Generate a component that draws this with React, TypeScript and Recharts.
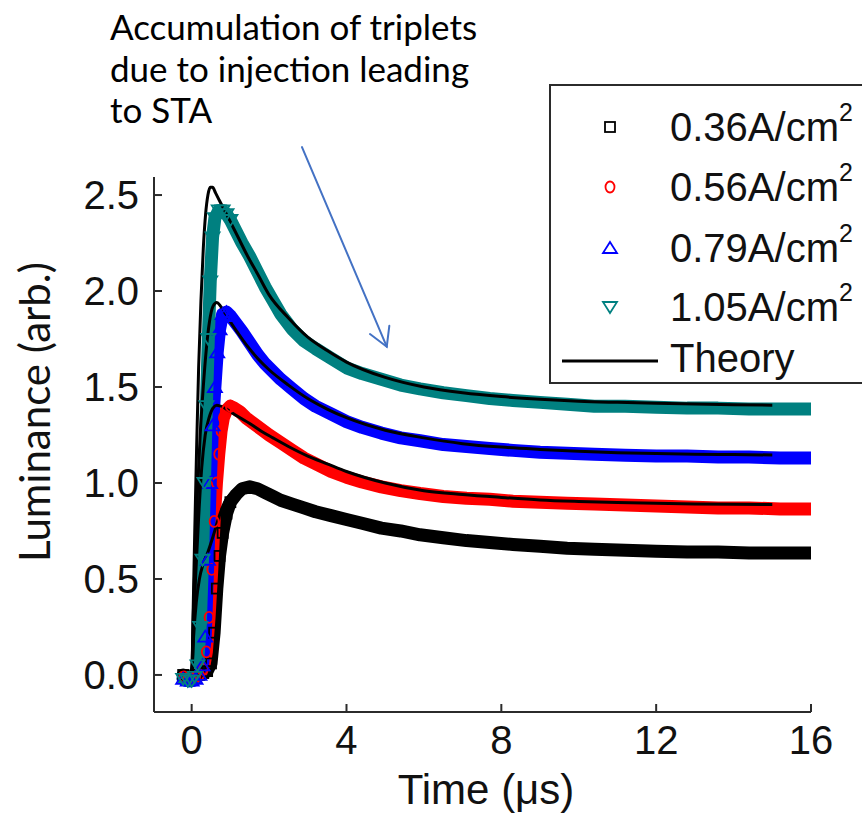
import React from "react";
import { ComposedChart, Line, XAxis, YAxis, ReferenceLine, Legend } from "recharts";

const t036 = [-0.22, -0.1, 0.0, 0.1, 0.2, 0.3, 0.4, 0.5, 0.58, 0.65, 0.72, 0.8, 0.9, 1.0, 1.15, 1.3, 1.5, 1.7, 1.9, 2.1, 2.3, 2.6, 2.9, 3.2, 3.6, 4.0, 4.4, 4.9, 5.4, 5.9, 6.5, 7.1, 7.7, 8.3, 9.0, 9.7, 10.4, 11.2, 12.0, 12.8, 13.6, 14.4, 15.2, 16.0];
const l036 = [0.0, -0.01, -0.01, 0.0, 0.0, 0.01, 0.02, 0.06, 0.22, 0.45, 0.62, 0.74, 0.84, 0.9, 0.94, 0.97, 0.98, 0.97, 0.95, 0.93, 0.91, 0.89, 0.87, 0.85, 0.83, 0.81, 0.79, 0.765, 0.75, 0.73, 0.715, 0.7, 0.69, 0.68, 0.67, 0.66, 0.655, 0.65, 0.645, 0.64, 0.64, 0.635, 0.635, 0.635];

const t056 = [-0.2, -0.1, 0.0, 0.1, 0.2, 0.3, 0.38, 0.45, 0.52, 0.58, 0.64, 0.7, 0.76, 0.82, 0.9, 1.0, 1.1, 1.25, 1.4, 1.6, 1.8, 2.0, 2.3, 2.6, 2.9, 3.2, 3.6, 4.0, 4.4, 4.9, 5.4, 5.9, 6.5, 7.1, 7.7, 8.3, 9.0, 9.7, 10.4, 11.2, 12.0, 12.8, 13.6, 14.4, 15.2, 16.0];
const l056 = [-0.01, -0.02, -0.02, -0.01, 0.0, 0.03, 0.12, 0.3, 0.55, 0.8, 1.0, 1.15, 1.27, 1.34, 1.38, 1.4, 1.39, 1.37, 1.34, 1.31, 1.28, 1.25, 1.21, 1.17, 1.13, 1.1, 1.06, 1.03, 1.005, 0.98, 0.96, 0.945, 0.93, 0.92, 0.915, 0.905, 0.9, 0.895, 0.89, 0.885, 0.88, 0.875, 0.87, 0.87, 0.865, 0.865];

const t079 = [-0.22, -0.1, 0.0, 0.1, 0.2, 0.28, 0.35, 0.42, 0.48, 0.54, 0.6, 0.66, 0.72, 0.8, 0.9, 1.0, 1.15, 1.3, 1.5, 1.7, 1.9, 2.1, 2.3, 2.6, 2.9, 3.2, 3.6, 4.0, 4.4, 4.9, 5.4, 5.9, 6.5, 7.1, 7.7, 8.3, 9.0, 9.7, 10.4, 11.2, 12.0, 12.8, 13.6, 14.4, 15.2, 16.0];
const l079 = [-0.02, -0.03, -0.03, -0.02, 0.0, 0.05, 0.2, 0.6, 1.0, 1.3, 1.5, 1.68, 1.8, 1.88, 1.89, 1.87, 1.83, 1.79, 1.73, 1.67, 1.62, 1.58, 1.54, 1.49, 1.44, 1.4, 1.36, 1.32, 1.29, 1.26, 1.235, 1.22, 1.2, 1.19, 1.18, 1.17, 1.16, 1.155, 1.15, 1.145, 1.14, 1.14, 1.135, 1.135, 1.13, 1.13];

const t105 = [-0.22, -0.1, 0.0, 0.08, 0.15, 0.22, 0.28, 0.33, 0.38, 0.43, 0.48, 0.54, 0.6, 0.7, 0.8, 0.9, 1.0, 1.15, 1.3, 1.5, 1.7, 1.9, 2.1, 2.3, 2.6, 2.9, 3.2, 3.6, 4.0, 4.4, 4.9, 5.4, 5.9, 6.5, 7.1, 7.7, 8.3, 9.0, 9.7, 10.4, 11.2, 12.0, 12.8, 13.6, 14.4, 15.2, 16.0];
const l105 = [-0.02, -0.03, -0.03, -0.01, 0.05, 0.25, 0.6, 1.0, 1.4, 1.75, 2.05, 2.28, 2.38, 2.42, 2.42, 2.4, 2.37, 2.31, 2.25, 2.18, 2.1, 2.02, 1.95, 1.88, 1.8, 1.74, 1.7, 1.65, 1.6, 1.57, 1.54, 1.51, 1.49, 1.47, 1.455, 1.44, 1.43, 1.42, 1.41, 1.4, 1.4, 1.395, 1.39, 1.39, 1.385, 1.385, 1.385];

// theory curves
const tTh036 = [-0.2, 0.0, 0.05, 0.12, 0.2, 0.3, 0.42, 0.55, 0.7, 0.85, 1.0, 1.2, 1.45, 1.7, 2.0, 2.5, 3.0, 3.5, 4.0, 5.0, 6.0, 7.0, 8.0, 9.0, 10.0, 11.0, 12.0, 13.0, 14.0, 15.0];
const lTh036 = [0.0, 0.0, 0.2, 0.38, 0.5, 0.58, 0.64, 0.72, 0.82, 0.9, 0.94, 0.965, 0.97, 0.96, 0.94, 0.9, 0.87, 0.84, 0.81, 0.765, 0.73, 0.705, 0.685, 0.67, 0.66, 0.652, 0.646, 0.642, 0.64, 0.638];

const tTh056 = [-0.2, 0.0, 0.05, 0.1, 0.18, 0.26, 0.35, 0.45, 0.55, 0.65, 0.75, 0.9, 1.05, 1.25, 1.5, 1.8, 2.1, 2.5, 3.0, 3.5, 4.0, 5.0, 6.0, 7.0, 8.0, 9.0, 10.0, 11.0, 12.0, 13.0, 14.0, 15.0];
const lTh056 = [0.0, 0.0, 0.25, 0.5, 0.82, 1.08, 1.25, 1.34, 1.39, 1.405, 1.4, 1.385, 1.365, 1.34, 1.31, 1.27, 1.235, 1.19, 1.14, 1.1, 1.06, 1.0, 0.96, 0.94, 0.925, 0.912, 0.904, 0.898, 0.894, 0.891, 0.889, 0.888];

const tTh079 = [-0.2, 0.0, 0.04, 0.09, 0.15, 0.22, 0.3, 0.38, 0.46, 0.55, 0.65, 0.75, 0.88, 1.0, 1.2, 1.45, 1.7, 2.0, 2.5, 3.0, 3.5, 4.0, 5.0, 6.0, 7.0, 8.0, 9.0, 10.0, 11.0, 12.0, 13.0, 14.0, 15.0];
const lTh079 = [0.0, 0.0, 0.3, 0.62, 0.95, 1.25, 1.5, 1.7, 1.84, 1.92, 1.94, 1.92, 1.88, 1.84, 1.78, 1.71, 1.65, 1.59, 1.51, 1.44, 1.385, 1.34, 1.275, 1.235, 1.205, 1.187, 1.175, 1.165, 1.158, 1.153, 1.15, 1.148, 1.146];

const tTh105 = [-0.2, 0.0, 0.04, 0.08, 0.13, 0.18, 0.24, 0.3, 0.36, 0.42, 0.48, 0.54, 0.62, 0.72, 0.85, 1.0, 1.2, 1.45, 1.7, 2.0, 2.5, 3.0, 3.5, 4.0, 5.0, 6.0, 7.0, 8.0, 9.0, 10.0, 11.0, 12.0, 13.0, 14.0, 15.0];
const lTh105 = [0.0, 0.0, 0.35, 0.75, 1.2, 1.6, 1.95, 2.22, 2.4, 2.5, 2.54, 2.54, 2.51, 2.47, 2.42, 2.36, 2.28, 2.18, 2.09, 1.98, 1.86, 1.76, 1.69, 1.63, 1.55, 1.5, 1.47, 1.45, 1.436, 1.426, 1.42, 1.415, 1.411, 1.408, 1.405];

const xMajor = [0, 4, 8, 12, 16];
const xMinor = [2, 6, 10, 14];
const yMajor = [0, 0.5, 1, 1.5, 2, 2.5];
const yMinor = [0.25, 0.75, 1.25, 1.75, 2.25];

const legendLabels = ["0.36A/cm", "0.56A/cm", "0.79A/cm", "1.05A/cm"];
const noteLines = ["Accumulation of triplets", "due to injection leading", "to STA"];
const arrowFrom = { x: 2.85, y: 2.75 };
const arrowTo = { x: 5.04, y: 1.71 };

const X_DOMAIN: [number, number] = [-0.973, 16];
const Y_DOMAIN: [number, number] = [-0.193, 2.594];
// past the rise the samples merge into a solid band, so single markers only show up to here
const MARKER_UNTIL = 1.0;

const AXIS = "#2b2b2b";
const ARIAL = '"Liberation Sans", Arial, sans-serif';
const CALIBRI = 'Lato, "Open Sans", sans-serif';

const toPoints = (t: number[], v: number[]) => t.map((x, i) => ({ t: x, v: v[i] }));

const measured = [
  { name: "0.36", color: "#000000", kind: "square", points: toPoints(t036, l036) },
  { name: "0.56", color: "#ff0000", kind: "circle", points: toPoints(t056, l056) },
  { name: "0.79", color: "#0000ff", kind: "up", points: toPoints(t079, l079) },
  { name: "1.05", color: "#008080", kind: "down", points: toPoints(t105, l105) },
];

const theory = [
  toPoints(tTh036, lTh036),
  toPoints(tTh056, lTh056),
  toPoints(tTh079, lTh079),
  toPoints(tTh105, lTh105),
];

function Marker({ cx, cy, kind, color }: { cx: number; cy: number; kind: string; color: string }) {
  if (cx == null || cy == null) return null;
  const common = { fill: "none", stroke: color, strokeWidth: 1.8 };
  if (kind === "square") return <rect x={cx - 5} y={cy - 5} width={10} height={10} {...common} />;
  if (kind === "circle") return <ellipse cx={cx} cy={cy} rx={4.5} ry={5.5} {...common} />;
  if (kind === "up") return <path d={`M${cx},${cy - 6}L${cx + 7},${cy + 5}L${cx - 7},${cy + 5}Z`} {...common} />;
  return <path d={`M${cx},${cy + 6}L${cx + 7},${cy - 5}L${cx - 7},${cy - 5}Z`} {...common} />;
}

function Arrow(props: any) {
  const { x1, y1, x2, y2 } = props;
  if (x1 == null) return null;
  const a = Math.atan2(y2 - y1, x2 - x1);
  const len = 21;
  const spread = (30 * Math.PI) / 180;
  const b1 = [x2 - len * Math.cos(a - spread), y2 - len * Math.sin(a - spread)];
  const b2 = [x2 - len * Math.cos(a + spread), y2 - len * Math.sin(a + spread)];
  return (
    <g stroke="#4472c4" strokeWidth={2} fill="none" strokeLinecap="round">
      <line x1={x1} y1={y1} x2={x2} y2={y2} />
      <polyline points={`${b1[0]},${b1[1]} ${x2},${y2} ${b2[0]},${b2[1]}`} />
    </g>
  );
}

function LegendBox() {
  const rows = [41, 101, 162, 221];
  return (
    <div style={{ width: 340, height: 296, border: `2px solid ${AXIS}`, background: "#fff" }}>
      <svg width={340} height={296} style={{ display: "block" }}>
        {measured.map((s, i) => (
          <g key={s.name}>
            <Marker cx={59} cy={rows[i]} kind={s.kind} color={s.color} />
            <text x={119} y={rows[i] + 14} fontFamily={ARIAL} fontSize={40} fill="#111">
              {legendLabels[i]}
              <tspan fontSize={25} dy={-20}>2</tspan>
            </text>
          </g>
        ))}
        <line x1={11} y1={275} x2={107} y2={275} stroke="#000" strokeWidth={3} />
        <text x={119} y={286} fontFamily={ARIAL} fontSize={40} fill="#111">Theory</text>
      </svg>
    </div>
  );
}

const YTitle = () => (
  <text x={34} y={412} transform="rotate(-90 34 412)" textAnchor="middle" dominantBaseline="central"
    fontFamily={CALIBRI} fontSize={42} fill="#111">
    Luminance (arb.)
  </text>
);

const XTitle = () => (
  <text x={486} y={804} textAnchor="middle" fontFamily={ARIAL} fontSize={42} fill="#111">
    Time (μs)
  </text>
);

export default function App() {
  const tickStyle = { fill: "#111", fontSize: 40, fontFamily: ARIAL };
  const majorLine = { stroke: AXIS, strokeWidth: 2 };
  const minorLine = { stroke: AXIS, strokeWidth: 1.5 };
  return (
    <div style={{ position: "absolute", left: 0, top: 0, width: 862, height: 816, overflow: "hidden", background: "#fff" }}>
      <ComposedChart width={862} height={816} margin={{ top: 177, right: 51, bottom: 24, left: 54 }}>
        <XAxis xAxisId="bm" dataKey="t" type="number" domain={X_DOMAIN} allowDataOverflow ticks={xMinor}
          height={0} tickSize={-4} tick={false} axisLine={false} tickLine={minorLine} />
        <XAxis xAxisId="b" dataKey="t" type="number" domain={X_DOMAIN} allowDataOverflow ticks={xMajor}
          height={80} tickSize={-8} tickMargin={22} tick={tickStyle} axisLine={majorLine} tickLine={majorLine}
          label={{ content: XTitle }} />
        <XAxis xAxisId="tm" dataKey="t" orientation="top" type="number" domain={X_DOMAIN} allowDataOverflow ticks={xMinor}
          height={0} tickSize={-4} tick={false} axisLine={false} tickLine={minorLine} />
        <XAxis xAxisId="t" dataKey="t" orientation="top" type="number" domain={X_DOMAIN} allowDataOverflow ticks={xMajor}
          height={0} tickSize={-8} tick={false} axisLine={majorLine} tickLine={majorLine} />

        <YAxis yAxisId="lm" type="number" domain={Y_DOMAIN} allowDataOverflow ticks={yMinor}
          width={0} tickSize={-4} tick={false} axisLine={false} tickLine={minorLine} />
        <YAxis yAxisId="l" type="number" domain={Y_DOMAIN} allowDataOverflow ticks={yMajor}
          width={100} tickSize={-8} tickMargin={23} tick={tickStyle} axisLine={majorLine} tickLine={majorLine}
          tickFormatter={(v: number) => v.toFixed(1)} label={{ content: YTitle }} />
        <YAxis yAxisId="rm" orientation="right" type="number" domain={Y_DOMAIN} allowDataOverflow ticks={yMinor}
          width={0} tickSize={-4} tick={false} axisLine={false} tickLine={minorLine} />
        <YAxis yAxisId="r" orientation="right" type="number" domain={Y_DOMAIN} allowDataOverflow ticks={yMajor}
          width={0} tickSize={-8} tick={false} axisLine={majorLine} tickLine={majorLine} />

        {measured.map((s) => (
          <Line key={s.name} xAxisId="b" yAxisId="l" data={s.points} dataKey="v" type="linear"
            stroke={s.color} strokeWidth={13} strokeLinejoin="round" strokeLinecap="round"
            dot={(p: any) =>
              p.payload && p.payload.t <= MARKER_UNTIL ? (
                <Marker key={`${s.name}-${p.index}`} cx={p.cx} cy={p.cy} kind={s.kind} color={s.color} />
              ) : (
                <g key={`${s.name}-${p.index}`} />
              )
            }
            activeDot={false} legendType="none" isAnimationActive={false} />
        ))}
        {theory.map((pts, i) => (
          <Line key={`th-${i}`} xAxisId="b" yAxisId="l" data={pts} dataKey="v" type="monotone"
            stroke="#000" strokeWidth={3} dot={false} activeDot={false} legendType="none" isAnimationActive={false} />
        ))}

        <ReferenceLine xAxisId="b" yAxisId="l" segment={[arrowFrom, arrowTo]} ifOverflow="visible" shape={Arrow} />

        <Legend verticalAlign="middle" align="center" layout="horizontal"
          wrapperStyle={{ left: 549, top: 84, width: 344, height: 300 }} content={() => <LegendBox />} />
      </ComposedChart>

      <div style={{ position: "absolute", left: 110, top: 6, fontFamily: CALIBRI, fontSize: 35, lineHeight: "41.5px", color: "#000" }}>
        {noteLines.map((l) => (
          <div key={l}>{l}</div>
        ))}
      </div>
    </div>
  );
}
